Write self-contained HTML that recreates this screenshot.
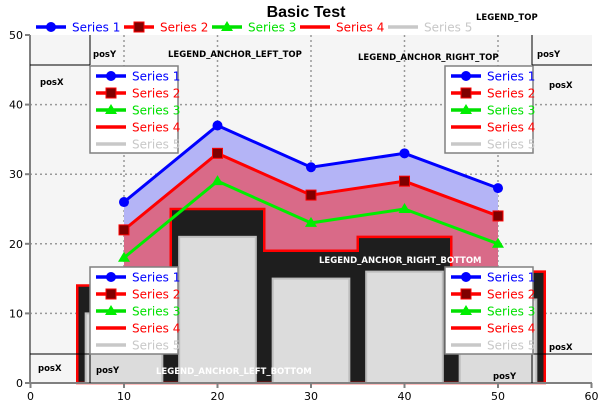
<!DOCTYPE html>
<html><head><meta charset="utf-8"><style>
body{margin:0;background:#fff;}
svg{display:block;font-family:"DejaVu Sans","Liberation Sans",sans-serif;}
</style></head><body>
<svg id="c" width="612" height="414" viewBox="0 0 612 414">
<rect x="0" y="0" width="612" height="414" fill="#fff"/>
<rect x="30" y="35" width="562" height="348" fill="#f5f5f5"/>
<text x="306" y="17" text-anchor="middle" font-size="16" font-weight="bold" font-family="Liberation Sans,sans-serif">Basic Test</text>
<g id="grid"></g><g id="marks"></g><g id="axes"></g><g id="ann"></g><g id="legends"></g>
</svg>
<script>
const xCats=[10,20,30,40,50];
const s1=[26,37,31,33,28];
const s2=[22,33,27,29,24];
const s3=[18,29,23,25,20];
const s4Edges=[5,15,25,35,45,55];
const s4=[14,25,19,21,16];
const s5=[10,21,15,16,12];
const xTicks=[0,10,20,30,40,50,60];
const yTicks=[0,10,20,30,40,50];
const names=["Series 1","Series 2","Series 3","Series 4","Series 5"];
const colors=["#0000ff","#ff0000","#00e000","#ff0000","#c8c8c8"];

const NS="http://www.w3.org/2000/svg";
const X=v=>30.5+v*(561/60);
const Y=v=>383-v*(348/50);
function mk(p,t,a){const e=document.createElementNS(NS,t);for(const k in a)e.setAttribute(k,a[k]);p.appendChild(e);return e;}
const grid=document.getElementById('grid'),marks=document.getElementById('marks'),axes=document.getElementById('axes'),ann=document.getElementById('ann'),leg=document.getElementById('legends');

xTicks.forEach(t=>{if(t>0&&t<60){const l=mk(grid,'line',{x1:X(t),x2:X(t),y1:35,y2:383,stroke:'#999','stroke-width':1.5,'stroke-dasharray':'2,3'});

}});
yTicks.forEach(t=>{if(t>0&&t<50){const l=mk(grid,'line',{x1:30,x2:592,y1:Y(t),y2:Y(t),stroke:'#999','stroke-width':1.5,'stroke-dasharray':'2,3'});

}});

function areaPath(vals){let d='M'+X(xCats[0])+','+Y(0);vals.forEach((v,i)=>d+='L'+X(xCats[i])+','+Y(v));return d+'L'+X(xCats[xCats.length-1])+','+Y(0)+'Z';}
let a1=mk(marks,'path',{d:areaPath(s1),fill:'#b4b4f6'});


let a2=mk(marks,'path',{d:areaPath(s2),fill:'#d96a88'});


// step area series 4
let d='M'+X(s4Edges[0])+','+Y(0);
s4.forEach((v,i)=>{d+='L'+X(s4Edges[i])+','+Y(v)+'L'+X(s4Edges[i+1])+','+Y(v);});
d+='L'+X(s4Edges[s4Edges.length-1])+','+Y(0)+'Z';
let st=mk(marks,'path',{d:d,fill:'#1e1e1e',stroke:'#ff0000','stroke-width':2.5});


s5.forEach((v,i)=>{const b=mk(marks,'rect',{x:X(xCats[i]-4.1),y:Y(v),width:X(8.2)-X(0),height:Y(0)-Y(v),fill:'#dcdcdc',stroke:'#bdbdbd','stroke-width':2});

});
function line(vals,col,nm){const p=mk(marks,'polyline',{points:vals.map((v,i)=>X(xCats[i])+','+Y(v)).join(' '),fill:'none',stroke:col,'stroke-width':3});

}
line(s1,'#0000ff','series-1-line');line(s2,'#ff0000','series-2-line');line(s3,'#00ee00','series-3-line');
function marker(g,kind,cx,cy){
 if(kind==0)return mk(g,'circle',{cx:cx,cy:cy,r:5,fill:'#0000ff'});
 if(kind==1)return mk(g,'rect',{x:cx-5,y:cy-5,width:10,height:10,fill:'#800000',stroke:'#ff0000','stroke-width':1});
 if(kind==2)return mk(g,'polygon',{points:`${cx},${cy-6} ${cx+6},${cy+4} ${cx-6},${cy+4}`,fill:'#00ee00'});
}
[s1,s2,s3].forEach((vals,k)=>vals.forEach((v,i)=>{const m=marker(marks,k,X(xCats[i]),Y(v));

}));

// axes
mk(axes,'line',{x1:30,x2:30,y1:35,y2:384,stroke:'#808080','stroke-width':2});
mk(axes,'line',{x1:29,x2:592,y1:383,y2:383,stroke:'#808080','stroke-width':2});
xTicks.forEach(t=>{mk(axes,'line',{x1:X(t),x2:X(t),y1:383,y2:388,stroke:'#808080','stroke-width':2});
const tx=mk(axes,'text',{x:X(t),y:400,'text-anchor':'middle','font-size':11});tx.textContent=t;

});
yTicks.forEach(t=>{mk(axes,'line',{x1:25,x2:30,y1:Y(t),y2:Y(t),stroke:'#808080','stroke-width':2});
const tx=mk(axes,'text',{x:23,y:Y(t)+4,'text-anchor':'end','font-size':11});tx.textContent=t;

});

// annotations
[[30,65,90,65],[90,35,90,65],[532,35,532,65],[532,65,592,65],[30,354,90,354],[90,354,90,383],[532,354,532,383],[532,354,592,354]].forEach(l=>mk(ann,'line',{x1:l[0],y1:l[1],x2:l[2],y2:l[3],stroke:'#000','stroke-width':1}));
[["posY",93,57,'#000'],["posX",40,85,'#000'],["LEGEND_ANCHOR_LEFT_TOP",168,57,'#000'],["LEGEND_ANCHOR_RIGHT_TOP",358,60,'#000'],["posY",537,57,'#000'],["posX",549,88,'#000'],["LEGEND_TOP",476,20,'#000'],
 ["posX",38,371,'#000'],["posY",96,373,'#000'],["LEGEND_ANCHOR_LEFT_BOTTOM",156,374,'#fff'],["LEGEND_ANCHOR_RIGHT_BOTTOM",319,263,'#fff'],["posX",549,350,'#000'],["posY",493,379,'#000']].forEach(a=>{
 const t=mk(ann,'text',{x:a[1],y:a[2],'font-size':8.5,'font-weight':'bold',fill:a[3]});t.textContent=a[0];
 
 });

function entry(g,k,x,y){
 const c=k==4?'#c8c8c8':colors[k];
 mk(g,'line',{x1:x,x2:x+30,y1:y,y2:y,stroke:c,'stroke-width':3.5});
 if(k<3)marker(g,k,x+15,y);
 const t=mk(g,'text',{x:x+36,y:y+4.5,'font-size':12,fill:c});t.textContent=names[k];
}
// top legend
const tl=mk(leg,'g',{});


[36,124,212,300,388].forEach((x,k)=>entry(tl,k,x,27));
[[90,66],[445,66],[90,267],[445,267]].forEach((p,n)=>{
 const g=mk(leg,'g',{});
 
 
 mk(g,'rect',{x:p[0],y:p[1],width:88,height:87,fill:'#fff',stroke:'#808080','stroke-width':1.5});
 for(let k=0;k<5;k++)entry(g,k,p[0]+6,p[1]+10+k*17);
});
</script>
</body></html>
